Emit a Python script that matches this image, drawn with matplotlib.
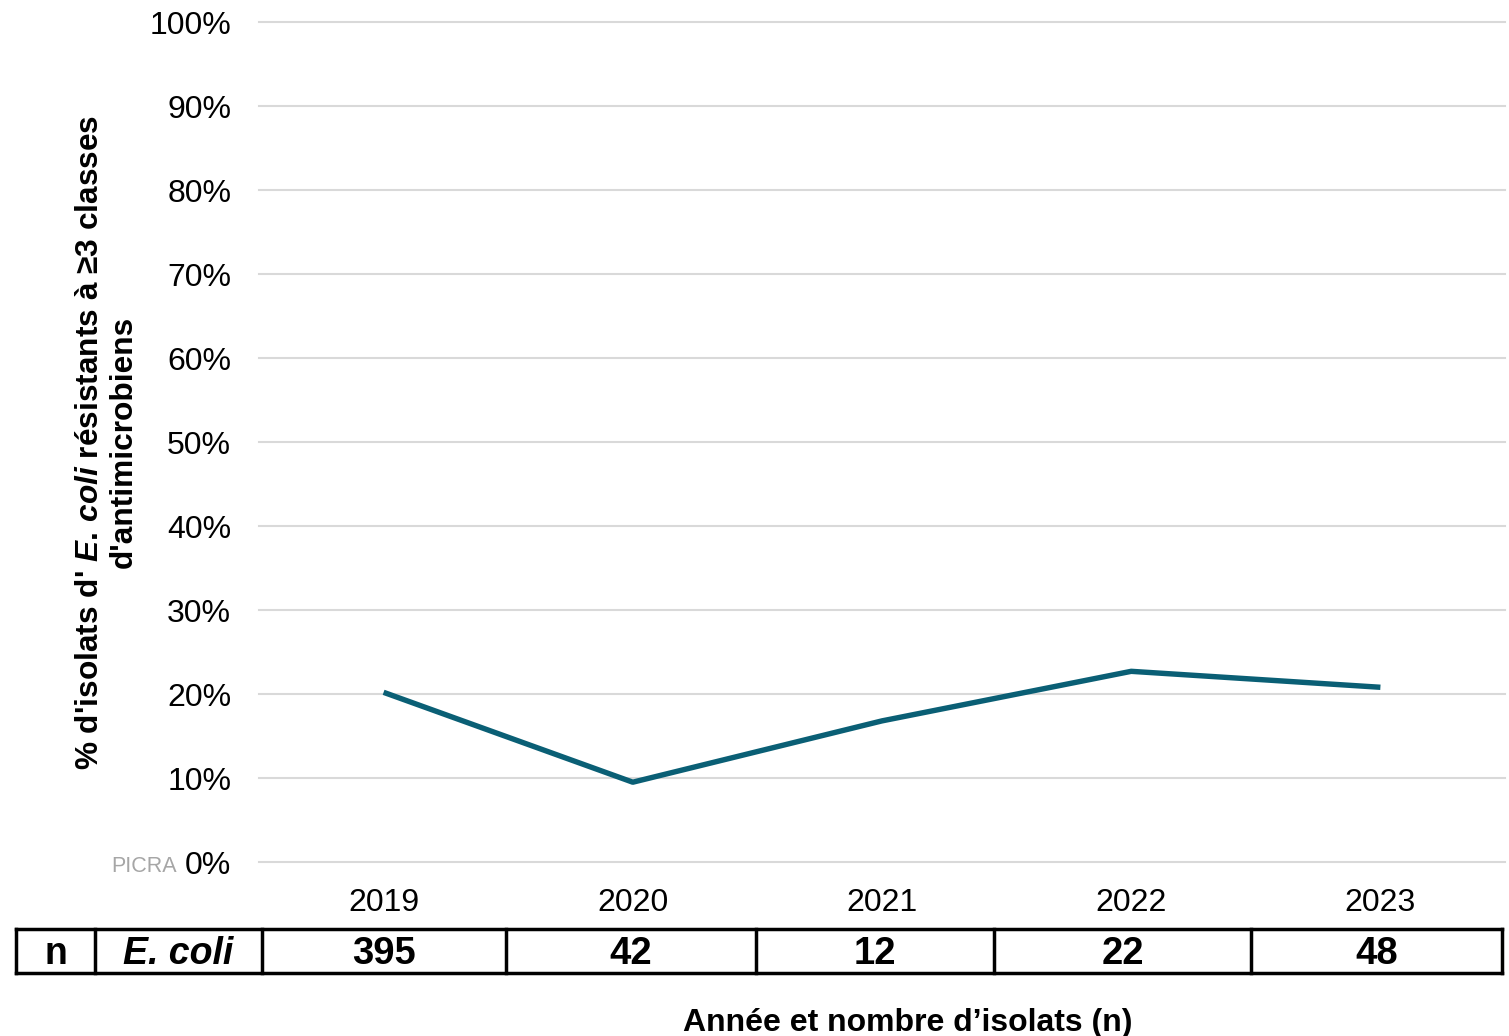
import matplotlib
matplotlib.use("Agg")
import matplotlib.pyplot as plt
from matplotlib.lines import Line2D

plt.rcParams['font.family'] = ['Liberation Sans', 'DejaVu Sans']
plt.rcParams['mathtext.fontset'] = 'custom'
plt.rcParams['mathtext.it'] = 'Liberation Sans:bold:italic'
plt.rcParams['mathtext.rm'] = 'Liberation Sans:bold'

years = ['2019', '2020', '2021', '2022', '2023']
pct_resistant = [20.2, 9.5, 16.8, 22.7, 20.8]
n_isolats = [395, 42, 12, 22, 48]
y_ticks = [0, 10, 20, 30, 40, 50, 60, 70, 80, 90, 100]

W, H = 1509, 1036
fig = plt.figure(figsize=(W / 100, H / 100), dpi=100)


def fx(px):
    return px / W


def fy(py):
    return 1 - py / H


ax = fig.add_axes([fx(259), fy(862), fx(1505) - fx(259), fy(22) - fy(862)])

x = list(range(len(years)))
ax.plot(x, pct_resistant, color='#0a5f75', linewidth=3.9, solid_capstyle='butt', zorder=3)

ax.set_xlim(-0.5, len(years) - 0.5)
ax.set_ylim(0, 100)
ax.set_yticks(y_ticks)
ax.set_yticklabels([f"{v}%" for v in y_ticks], fontsize=23)
ax.set_xticks(x)
ax.set_xticklabels(years, fontsize=23)
ax.tick_params(axis='y', length=0, pad=20)
ax.tick_params(axis='x', length=0, pad=19)
ax.yaxis.grid(True, color='#d9d9d9', linewidth=1.5)
for gl in ax.get_ygridlines():
    gl.set_clip_on(False)
ax.set_axisbelow(True)
for s in ax.spines.values():
    s.set_visible(False)

ax.set_ylabel("% d'isolats d' $\\mathit{E.\\,coli}$ résistants à \u22653 classes\nd'antimicrobiens",
              fontsize=22.8, fontweight='bold', linespacing=1.15, labelpad=8)

fig.text(fx(177), fy(866), 'PICRA', fontsize=15.5, color='#a6a6a6', ha='right', va='center')

# tableau des effectifs
edges = [16, 95, 262, 506, 756, 994, 1251, 1502]
top, bot = 929, 973
lw = 2.5
fig.add_artist(Line2D([fx(edges[0]), fx(edges[-1])], [fy(top), fy(top)], color='black', lw=lw))
fig.add_artist(Line2D([fx(edges[0]), fx(edges[-1])], [fy(bot), fy(bot)], color='black', lw=lw))
for e in edges:
    fig.add_artist(Line2D([fx(e), fx(e)], [fy(top), fy(bot)], color='black', lw=lw))

ymid = fy((top + bot) / 2 + 3)
fig.text(fx((edges[0] + edges[1]) / 2), ymid, 'n', fontsize=27, fontweight='bold', ha='center', va='center')
fig.text(fx((edges[1] + edges[2]) / 2), ymid, 'E. coli', fontsize=27, fontweight='bold', style='italic',
         ha='center', va='center')
for i, n in enumerate(n_isolats):
    fig.text(fx((edges[i + 2] + edges[i + 3]) / 2), ymid, str(n), fontsize=27.5, fontweight='bold',
             ha='center', va='center')

fig.text(fx(908), fy(1023), 'Année et nombre d\u2019isolats (n)', fontsize=23, fontweight='bold',
         ha='center', va='center')

fig.savefig('out.png', dpi=100)
